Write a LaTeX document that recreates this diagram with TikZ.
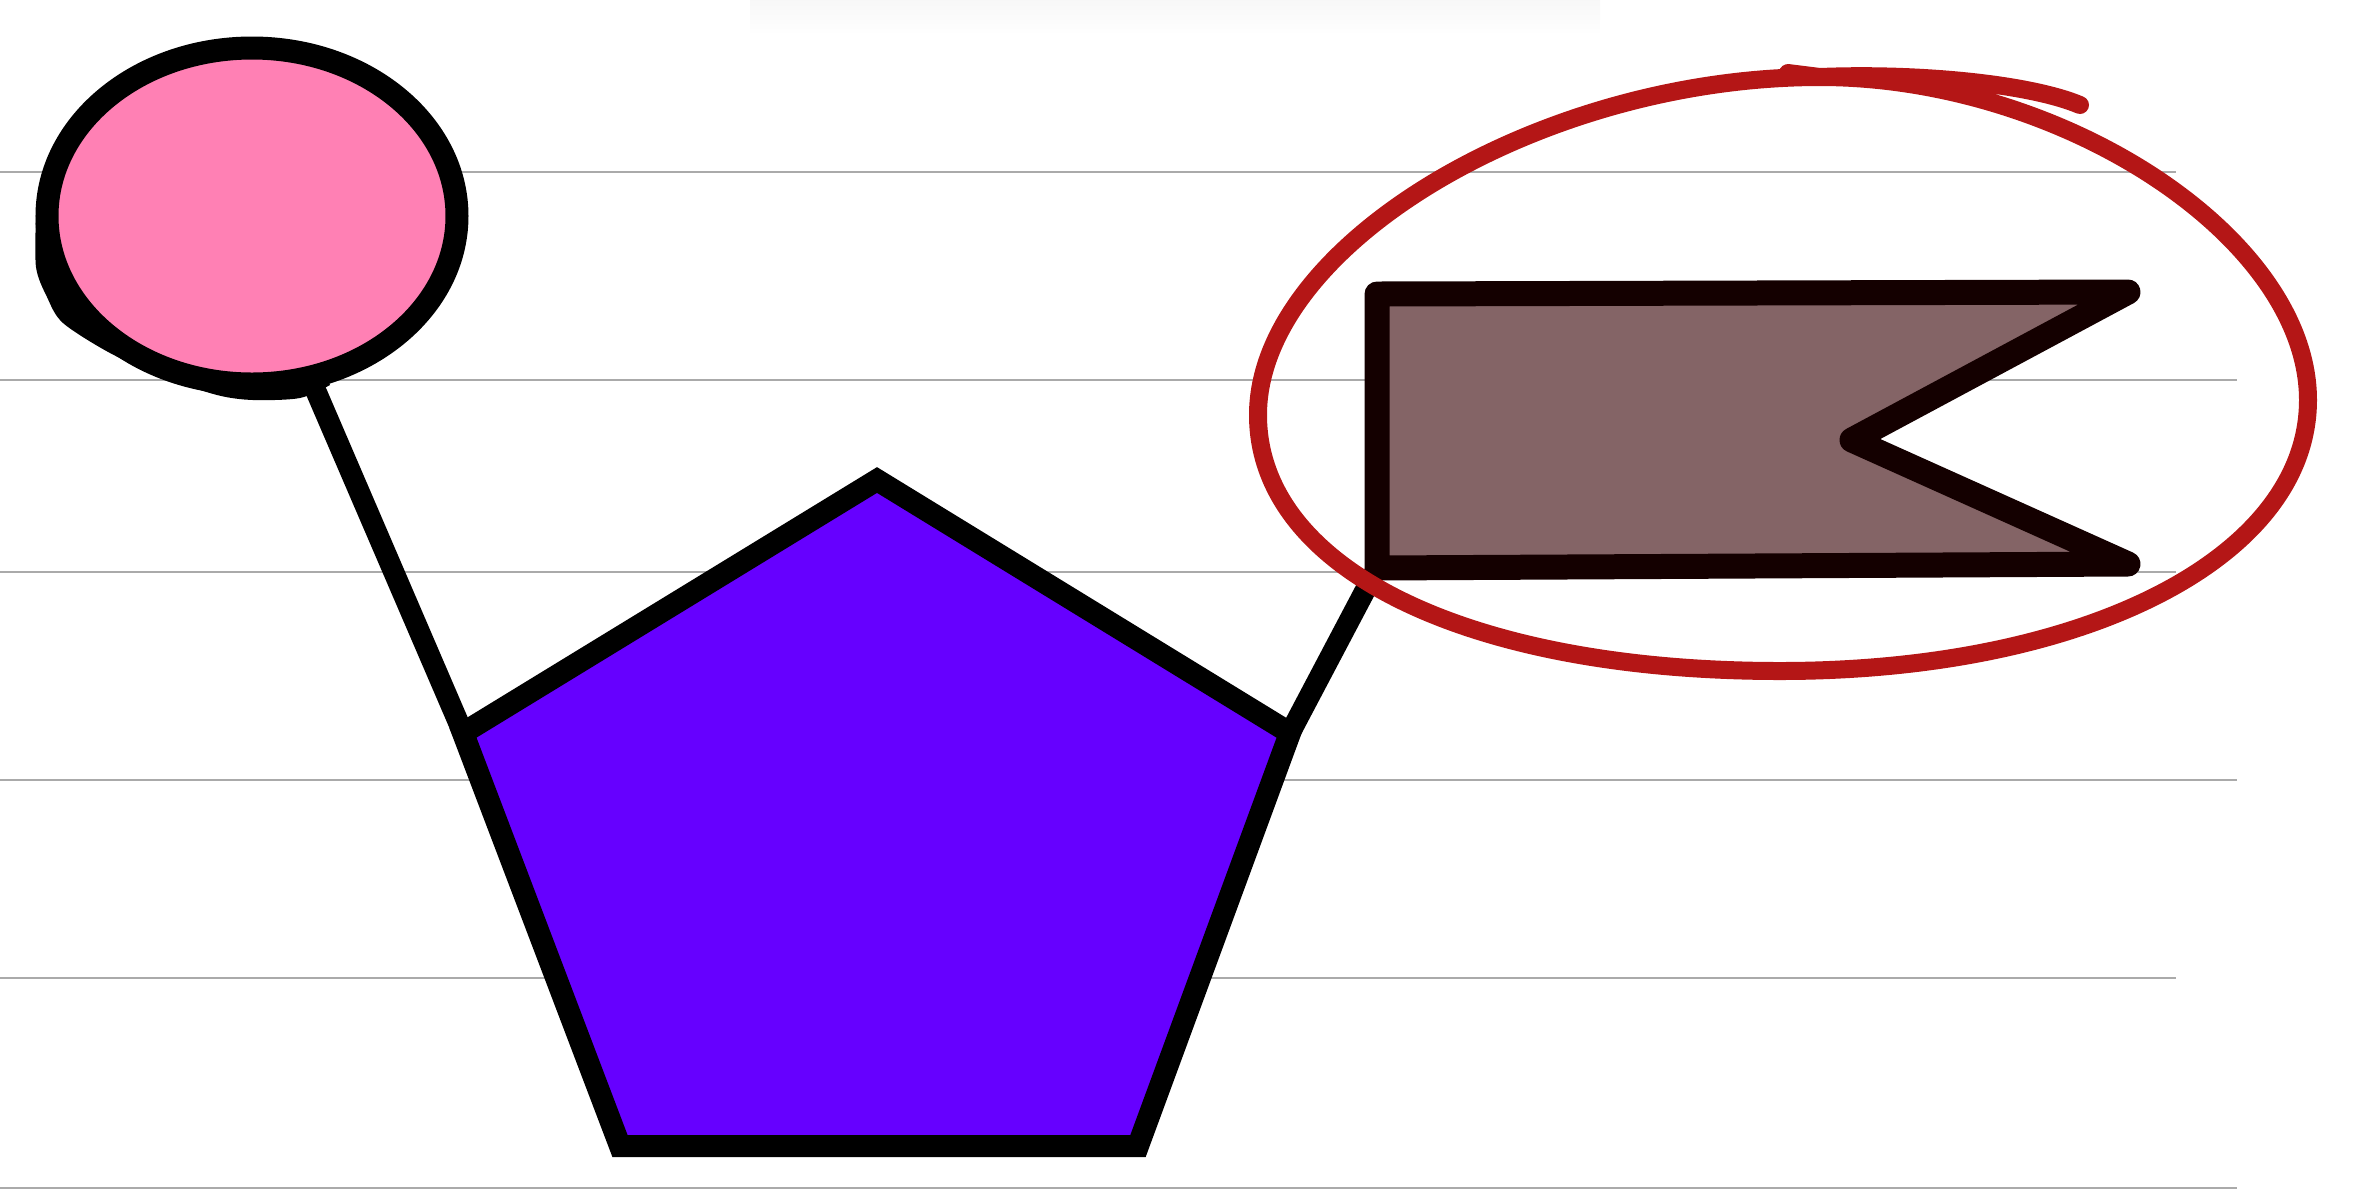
\documentclass[tikz,border=0pt]{standalone}
\usetikzlibrary{shapes.geometric, backgrounds, calc}
\definecolor{bulbPink}{RGB}{255,128,180}
\definecolor{pentaViolet}{RGB}{102,0,255}
\definecolor{flagBrown}{RGB}{132,100,102}
\definecolor{flagEdge}{RGB}{20,0,0}
\definecolor{loopRed}{RGB}{180,22,22}
\definecolor{ruleGray}{RGB}{170,170,170}
\tikzset{
    paperRule/.style={draw=ruleGray, line width=0.02cm},
    bulbShape/.style={ellipse, draw, fill=bulbPink, line width=0.23cm, minimum width=4.1cm, minimum height=3.36cm, inner sep=0pt},
    pentaShape/.style={draw, fill=pentaViolet, line width=0.22cm, line join=miter},
    flagShape/.style={draw=flagEdge, fill=flagBrown, line width=0.25cm, line join=round},
    stickLine/.style={line width=0.21cm},
    redLoop/.style={draw=loopRed, line width=0.18cm, line cap=round},
}
\newcommand{\drawRule}[2]{
    \draw[paperRule] (0,#1) -- (#2,#1);
}
\begin{document}
\begin{tikzpicture}[x=1cm, y=-1cm]
    \useasboundingbox (0,0) rectangle (23.6,12);

    \node[bulbShape] (B) at (2.52, 2.16) {};

    % pentagon corners
    \coordinate (pT) at (8.77, 4.80);
    \coordinate (pR) at (12.90, 7.33);
    \coordinate (pBR) at (11.38, 11.46);
    \coordinate (pBL) at (6.20, 11.46);
    \coordinate (pL) at (4.63, 7.33);

    % flag corners
    \coordinate (fTL) at (13.77, 2.94);
    \coordinate (fTR) at (21.28, 2.92);
    \coordinate (fN) at (18.52, 4.40);
    \coordinate (fBR) at (21.28, 5.64);
    \coordinate (fBL) at (13.77, 5.68);

    \draw[pentaShape] (pT) -- (pR) -- (pBR) -- (pBL) -- (pL) -- cycle;
    \draw[flagShape] (fTL) -- (fTR) -- (fN) -- (fBR) -- (fBL) -- cycle;

    % freehand loop round the flag, one lap and a tail
    \draw[redLoop] (17.88,0.73) -- (18.20,0.77)
        .. controls (20.64,0.77) and (23.08,2.385) .. (23.08,4.00)
        .. controls (23.08,5.572) and (20.862,6.71) .. (17.80,6.71)
        .. controls (14.668,6.71) and (12.58,5.686) .. (12.58,4.15)
        .. controls (12.58,2.46) and (15.39,0.77) .. (18.20,0.77)
        .. controls (19.20,0.73) and (20.30,0.84) .. (20.80,1.05);

    \begin{scope}[on background layer]
        \shade[top color=black!3, bottom color=white] (7.5,0) rectangle (16.0,0.35);
        \drawRule{1.72}{21.76}
        \drawRule{3.80}{22.37}
        \drawRule{5.72}{21.76}
        \drawRule{7.80}{22.37}
        \drawRule{9.78}{21.76}
        \drawRule{11.88}{22.37}
        % smudge under the bulb
        \fill plot[smooth] coordinates {(0.36,2.15) (0.36,2.67) (0.47,2.97) (0.63,3.23)
            (1.10,3.53) (1.63,3.77) (2.17,3.95) (2.53,4.00) (3.00,3.98) (3.30,3.85)}
            -- (2.52,2.16) -- cycle;
        \draw[stickLine] (B.-70) -- (pL);
        \draw[stickLine] (pR) -- (fBL);
    \end{scope}
\end{tikzpicture}
\end{document}
